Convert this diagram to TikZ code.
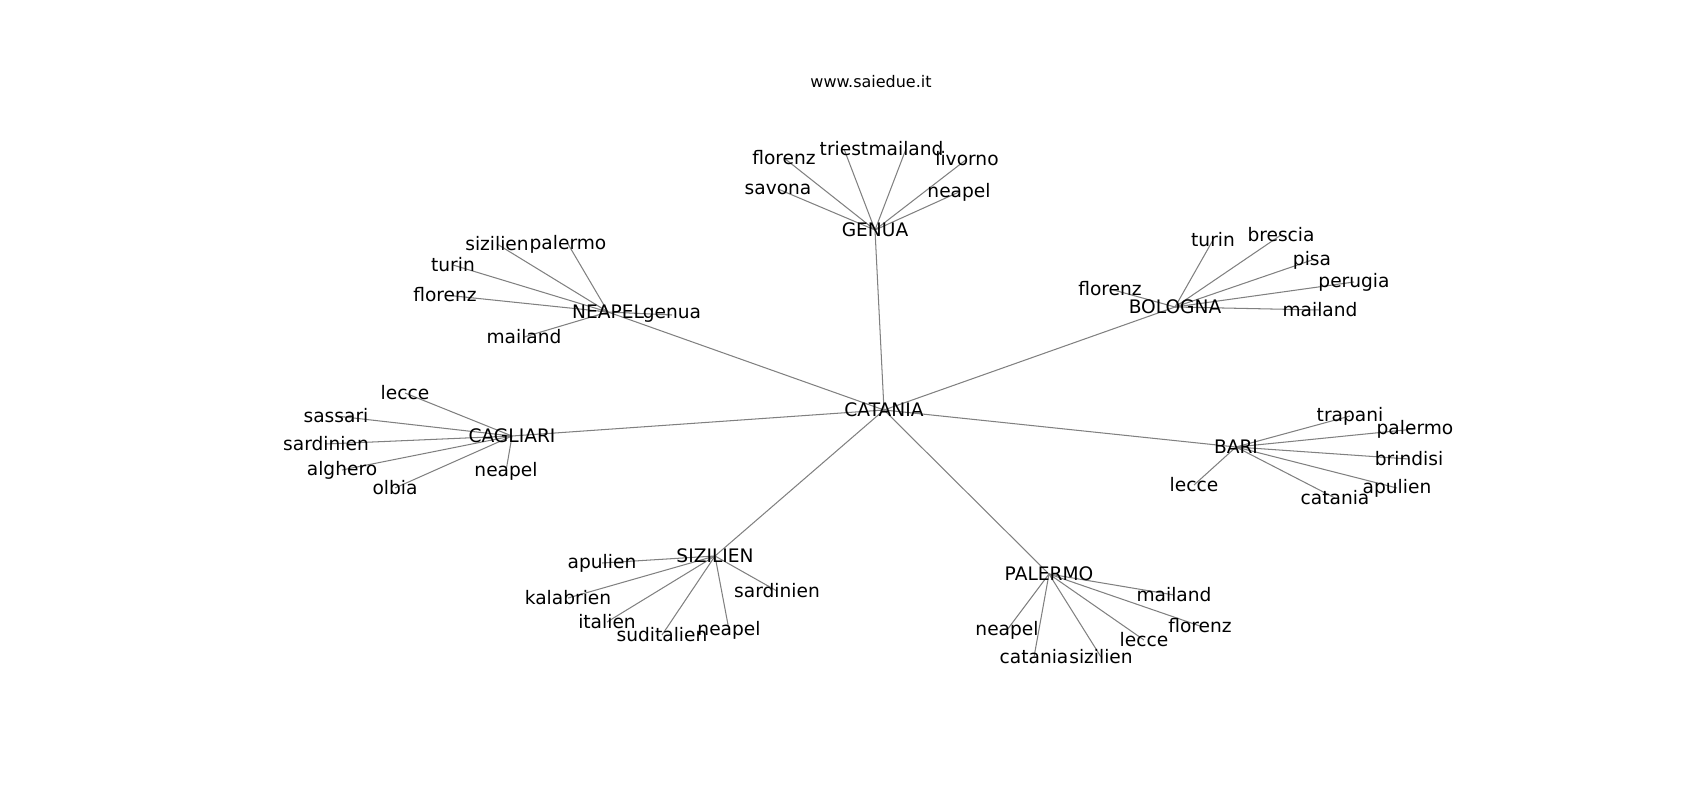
\documentclass[tikz,border=0pt]{standalone}
\usepackage{fontspec}
\setmainfont{DejaVu Sans}
\usetikzlibrary{backgrounds}
\tikzset{
  lbl/.style={inner sep=0pt, outer sep=0pt, anchor=center, font=\fontsize{13.4}{15}\selectfont, text=black},
  ttl/.style={inner sep=0pt, anchor=center, font=\fontsize{11.5}{13}\selectfont, text=black},
  edge/.style={draw=black!50, line width=0.75pt}
}
\begin{document}
\begin{tikzpicture}[x=0.72pt,y=-0.72pt]
\useasboundingbox (0,0) rectangle (1700,800);
\node[ttl] (title) at (871,82) {www.saiedue.it};
% hubs
\node[lbl] (cat) at (884,410) {CATANIA};
\node[lbl] (gen) at (875,230) {GENUA};
\node[lbl] (nea) at (608,312) {NEAPEL};
\node[lbl] (bol) at (1175,307) {BOLOGNA};
\node[lbl] (cag) at (512,436) {CAGLIARI};
\node[lbl] (bar) at (1236,447) {BARI};
\node[lbl] (siz) at (715,556) {SIZILIEN};
\node[lbl] (pal) at (1049,574) {PALERMO};
% GENUA leaves
\node[lbl] (g1) at (784,158) {florenz};
\node[lbl] (g2) at (844,149) {triest};
\node[lbl] (g3) at (906,149) {mailand};
\node[lbl] (g4) at (967,159) {livorno};
\node[lbl] (g5) at (959,192) {neapel};
\node[lbl] (g6) at (778,189) {savona};
% NEAPEL leaves
\node[lbl] (n1) at (497,244) {sizilien};
\node[lbl] (n2) at (568,244) {palermo};
\node[lbl] (n3) at (453,265) {turin};
\node[lbl] (n4) at (445,295) {florenz};
\node[lbl] (n5) at (524,337) {mailand};
\node[lbl] (n6) at (672,315) {genua};
% BOLOGNA leaves
\node[lbl] (b1) at (1213,240) {turin};
\node[lbl] (b2) at (1281,235) {brescia};
\node[lbl] (b3) at (1312,260) {pisa};
\node[lbl] (b4) at (1354,282) {perugia};
\node[lbl] (b5) at (1320,310) {mailand};
\node[lbl] (b6) at (1110,289) {florenz};
% CAGLIARI leaves
\node[lbl] (c1) at (405,393) {lecce};
\node[lbl] (c2) at (336,416) {sassari};
\node[lbl] (c3) at (326,444) {sardinien};
\node[lbl] (c4) at (342,470) {alghero};
\node[lbl] (c5) at (395,488) {olbia};
\node[lbl] (c6) at (506,471) {neapel};
% BARI leaves
\node[lbl] (r1) at (1350,416) {trapani};
\node[lbl] (r2) at (1415,429) {palermo};
\node[lbl] (r3) at (1409,459) {brindisi};
\node[lbl] (r4) at (1397,488) {apulien};
\node[lbl] (r5) at (1335,498) {catania};
\node[lbl] (r6) at (1194,485) {lecce};
% SIZILIEN leaves
\node[lbl] (s1) at (602,563) {apulien};
\node[lbl] (s2) at (568,598) {kalabrien};
\node[lbl] (s3) at (607,622) {italien};
\node[lbl] (s4) at (662,635) {suditalien};
\node[lbl] (s5) at (729,630) {neapel};
\node[lbl] (s6) at (777,591) {sardinien};
% PALERMO leaves
\node[lbl] (p1) at (1174,595) {mailand};
\node[lbl] (p2) at (1200,626) {florenz};
\node[lbl] (p3) at (1144,640) {lecce};
\node[lbl] (p4) at (1101,657) {sizilien};
\node[lbl] (p5) at (1034,657) {catania};
\node[lbl] (p6) at (1007,630) {neapel};
\begin{pgfonlayer}{background}
\foreach \h in {gen,nea,bol,cag,bar,siz,pal} \draw[edge] (cat.center) -- (\h.center);
\foreach \l in {g1,g2,g3,g4,g5,g6} \draw[edge] (gen.center) -- (\l.center);
\foreach \l in {n1,n2,n3,n4,n5,n6} \draw[edge] (nea.center) -- (\l.center);
\foreach \l in {b1,b2,b3,b4,b5,b6} \draw[edge] (bol.center) -- (\l.center);
\foreach \l in {c1,c2,c3,c4,c5,c6} \draw[edge] (cag.center) -- (\l.center);
\foreach \l in {r1,r2,r3,r4,r5,r6} \draw[edge] (bar.center) -- (\l.center);
\foreach \l in {s1,s2,s3,s4,s5,s6} \draw[edge] (siz.center) -- (\l.center);
\foreach \l in {p1,p2,p3,p4,p5,p6} \draw[edge] (pal.center) -- (\l.center);
\end{pgfonlayer}
\end{tikzpicture}
\end{document}
